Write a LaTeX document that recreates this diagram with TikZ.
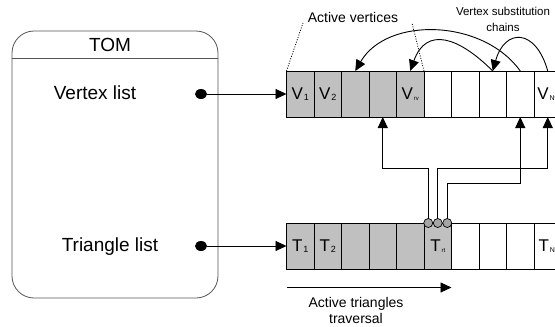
\documentclass[tikz,border=0pt]{standalone}
\usepackage{fontspec}
\setmainfont{Liberation Sans}
\usetikzlibrary{positioning, arrows.meta, shapes.geometric}
\definecolor{cellgray}{RGB}{192,192,192}
\definecolor{knobgray}{RGB}{165,165,165}
\definecolor{boxgray}{RGB}{85,85,85}
\newcommand{\slotlab}[3][7]{{\fontsize{17}{17}\selectfont #2}\kern0.8pt\raisebox{-1.2pt}{\fontsize{#1}{#1}\selectfont #3}}
\tikzset{
>={Triangle[length=11pt, width=10pt]}, % solid arrow heads
cell/.style={draw=black, line width=0.9pt, minimum width=27.5pt, minimum height=46pt, inner sep=0pt, outer sep=0pt}, % one slot of a list
tombox/.style={draw=boxgray, line width=0.8pt, rounded corners=22pt, minimum width=206pt, minimum height=267pt},
tomtext/.style={font=\fontsize{19}{22}\selectfont, inner sep=0pt},
handle/.style={ellipse, fill=black, minimum width=12pt, minimum height=10pt, inner sep=0pt},
knob/.style={circle, draw=black, fill=knobgray, line width=0.7pt, minimum size=9pt, inner sep=0pt},
link/.style={line width=0.9pt},
guide/.style={line width=0.8pt, dash pattern=on 1pt off 1.5pt},
note/.style={font=\fontsize{14}{16}\selectfont, align=center, inner sep=0pt},
smallnote/.style={font=\fontsize{11.5}{16}\selectfont, align=center, inner sep=0pt},
}
\begin{document}
\begin{tikzpicture}[x=1pt, y=-1pt]
        \useasboundingbox (0,0) rectangle (555,327);
        \clip (0,0) rectangle (555,327);

        % TOM record
        \node[tombox] (tom) at (115,164.5) {};
        \draw[draw=boxgray, line width=0.8pt] ([yshift=-28pt]tom.north west) -- ([yshift=-28pt]tom.north east);
        \node[tomtext] (tomname) at (110,45) {TOM};
        \node[tomtext] (vlist) at (95,93) {Vertex list};
        \node[tomtext] (tlist) at (110,247) {Triangle list};
        \node[handle] (vdot) at (201,94) {};
        \node[handle] (tdot) at (201,246) {};

        % the two lists
        \foreach \i/\txt/\fl in {1/{\slotlab[9]{V}{1}}/cellgray, 2/{\slotlab[9]{V}{2}}/cellgray, 3//cellgray, 4//cellgray, 5/{\slotlab[6]{V}{rv}}/cellgray, 6//white, 7//white, 8//white, 9//white, 10/{\slotlab{V}{Nv}}/white}
                \node[cell, fill=\fl] (v\i) at ({300.25+27.5*(\i-1)},94) {\txt};
        \foreach \i/\txt/\fl in {1/{\slotlab[9]{T}{1}}/cellgray, 2/{\slotlab[9]{T}{2}}/cellgray, 3//cellgray, 4//cellgray, 5//cellgray, 6/{\slotlab[6]{T}{rt}}/cellgray, 7//white, 8//white, 9//white, 10/{\slotlab{T}{Nt}}/white}
                \node[cell, fill=\fl] (t\i) at ({300.25+27.5*(\i-1)},246) {\txt};

        \draw[->, link] (vdot) -- (v1.west);
        \draw[->, link] (tdot) -- (t1.west);

        % vertex references of the current triangle
        \coordinate (busA) at (0,168);
        \coordinate (busB) at (0,183);
        \draw[->, link] ([xshift=-9.5pt]t6.north) -- ([xshift=-9.5pt]t6.north |- busA) -| (v4.south);
        \draw[->, link] (t6.north) -- (t6.north |- busA) -| (v10.south);
        \draw[->, link] ([xshift=9.5pt]t6.north) -- ([xshift=9.5pt]t6.north |- busB) -| (v9.south);
        \node[knob] (c1) at ([xshift=-9.5pt]t6.north) {};
        \node[knob] (c2) at (t6.north) {};
        \node[knob] (c3) at ([xshift=9.5pt]t6.north) {};

        % substitution chains
        \draw[->, link] (v9.north) .. controls +(-37,-52) and +(32,-55) .. (v3.north);
        \draw[->, link] (v8.north) .. controls +(-34,-34) and +(16,-45) .. (v5.north);
        \draw[->, link] (v10.north) .. controls +(-12,-43) and +(12,-43) .. (v8.north);

        % labels
        \node[note] (actv) at (353,17) {Active vertices};
        \coordinate (avL) at (303,23);
        \coordinate (avR) at (412,23);
        \draw[guide] (v1.north west) -- (avL);
        \draw[guide] (v5.north east) -- (avR);
        \node[smallnote] (subst) at (503,19) {Vertex substitution\\chains};
        \draw[->, link] ([yshift=-18.5pt]t1.south west) -- ([yshift=-18.5pt]t6.south east);
        \node[note] (actt) at (356,310) {Active triangles\\traversal};
      \end{tikzpicture}
\end{document}
